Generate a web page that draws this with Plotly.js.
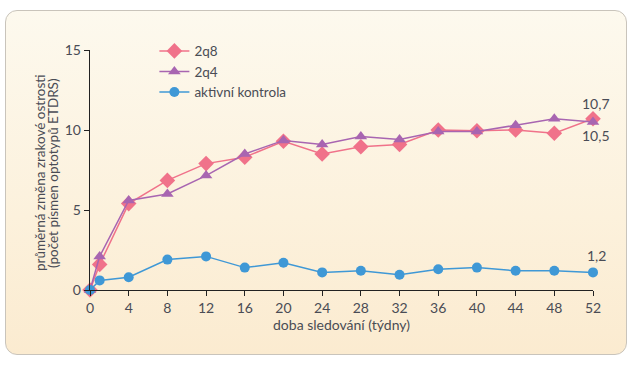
<!DOCTYPE html>
<html><head><meta charset="utf-8">
<script src="https://cdn.plot.ly/plotly-3.0.1.min.js"></script>
<style>
html,body{margin:0;padding:0;background:#fff;}
#frame{position:absolute;left:5px;top:10px;width:620px;height:343px;border:1px solid #c9c4bb;border-radius:12px;
background:linear-gradient(to bottom,#fdf9ee 0%,#fcf1dc 60%,#fbebd0 100%);}
#chart{position:absolute;left:0;top:0;width:633px;height:366px;}
</style></head>
<body>
<div id="frame"></div>
<div id="chart"></div>
<script>
const weeks = [0, 1, 4, 8, 12, 16, 20, 24, 28, 32, 36, 40, 44, 48, 52];
const q8 = [0, 1.6, 5.4, 6.85, 7.9, 8.3, 9.3, 8.5, 8.95, 9.1, 10.0, 9.95, 10.0, 9.8, 10.7];
const q4 = [0, 2.1, 5.6, 6.0, 7.15, 8.5, 9.35, 9.1, 9.6, 9.4, 9.9, 9.9, 10.3, 10.7, 10.5];
const ctrl = [0, 0.6, 0.8, 1.9, 2.1, 1.4, 1.7, 1.1, 1.2, 0.95, 1.3, 1.4, 1.2, 1.2, 1.1];
const names = ['2q8', '2q4', 'aktivní kontrola'];
const endLabels = ['10,7', '10,5', '1,2'];
const xTicks = [0, 4, 8, 12, 16, 20, 24, 28, 32, 36, 40, 44, 48, 52];
const yTicks = [0, 5, 10, 15];
const xTitle = 'doba sledování (týdny)';
const yTitleLines = ['průměrná změna zrakové ostrosti', '(počet písmen optotypů ETDRS)'];

const font = 'Lato, "Open Sans", sans-serif';
const textCol = '#4a4c55';
const traces = [
  {x: weeks, y: q8, name: names[0], mode: 'lines+markers', cliponaxis: false,
   line: {color: '#f0728a', width: 1.5}, marker: {symbol: 'diamond', size: 12, color: '#f0728a'}},
  {x: weeks, y: q4, name: names[1], mode: 'lines+markers', cliponaxis: false,
   line: {color: '#a865b1', width: 1.5}, marker: {symbol: 'triangle-up', size: 11, color: '#a865b1'}},
  {x: weeks, y: ctrl, name: names[2], mode: 'lines+markers', cliponaxis: false,
   line: {color: '#3f98d6', width: 1.5}, marker: {symbol: 'circle', size: 10, color: '#3f98d6'}}
];
const annos = [
  {x: 52, y: q8[q8.length-1], text: endLabels[0], showarrow: false, xanchor: 'center', yanchor: 'bottom', yshift: 5, xshift: 3, font: {size: 14, color: textCol}},
  {x: 52, y: q4[q4.length-1], text: endLabels[1], showarrow: false, xanchor: 'center', yanchor: 'top', yshift: -3, xshift: 3, font: {size: 14, color: textCol}},
  {x: 52, y: ctrl[ctrl.length-1], text: endLabels[2], showarrow: false, xanchor: 'center', yanchor: 'bottom', yshift: 6, xshift: 3, font: {size: 14, color: textCol}}
];
yTitleLines.forEach((t, i) => {
  annos.push({xref: 'paper', yref: 'paper', x: 0, y: 0.5, text: t, textangle: -90, showarrow: false,
              xanchor: 'center', yanchor: 'middle', xshift: -50 + i * 13, yshift: -3,
              font: {size: 13.5, color: textCol}});
});
const layout = {
  width: 633, height: 366,
  margin: {l: 90, r: 40, t: 50, b: 76},
  paper_bgcolor: 'rgba(0,0,0,0)', plot_bgcolor: 'rgba(0,0,0,0)',
  font: {family: font, size: 13, color: textCol},
  showlegend: true,
  legend: {x: 0.128, y: 1.06, xanchor: 'left', yanchor: 'top', bgcolor: 'rgba(0,0,0,0)',
           font: {size: 13.5, color: textCol}, tracegroupgap: 0, itemwidth: 30},
  xaxis: {range: [0, 52], tickvals: xTicks, ticks: 'outside', ticklen: 5, tickcolor: '#222',
          showline: true, linecolor: '#222', linewidth: 1.3, showgrid: false, zeroline: false,
          tickfont: {size: 14, color: textCol},
          title: {text: xTitle, font: {size: 14, color: textCol}, standoff: 5}},
  yaxis: {range: [0, 15], tickvals: yTicks, ticks: 'outside', ticklen: 5, tickcolor: '#222',
          showline: true, linecolor: '#222', linewidth: 1.3, showgrid: false, zeroline: false,
          tickfont: {size: 14, color: textCol}},
  annotations: annos
};
Plotly.newPlot('chart', traces, layout, {displayModeBar: false, staticPlot: true});
</script>
</body></html>
